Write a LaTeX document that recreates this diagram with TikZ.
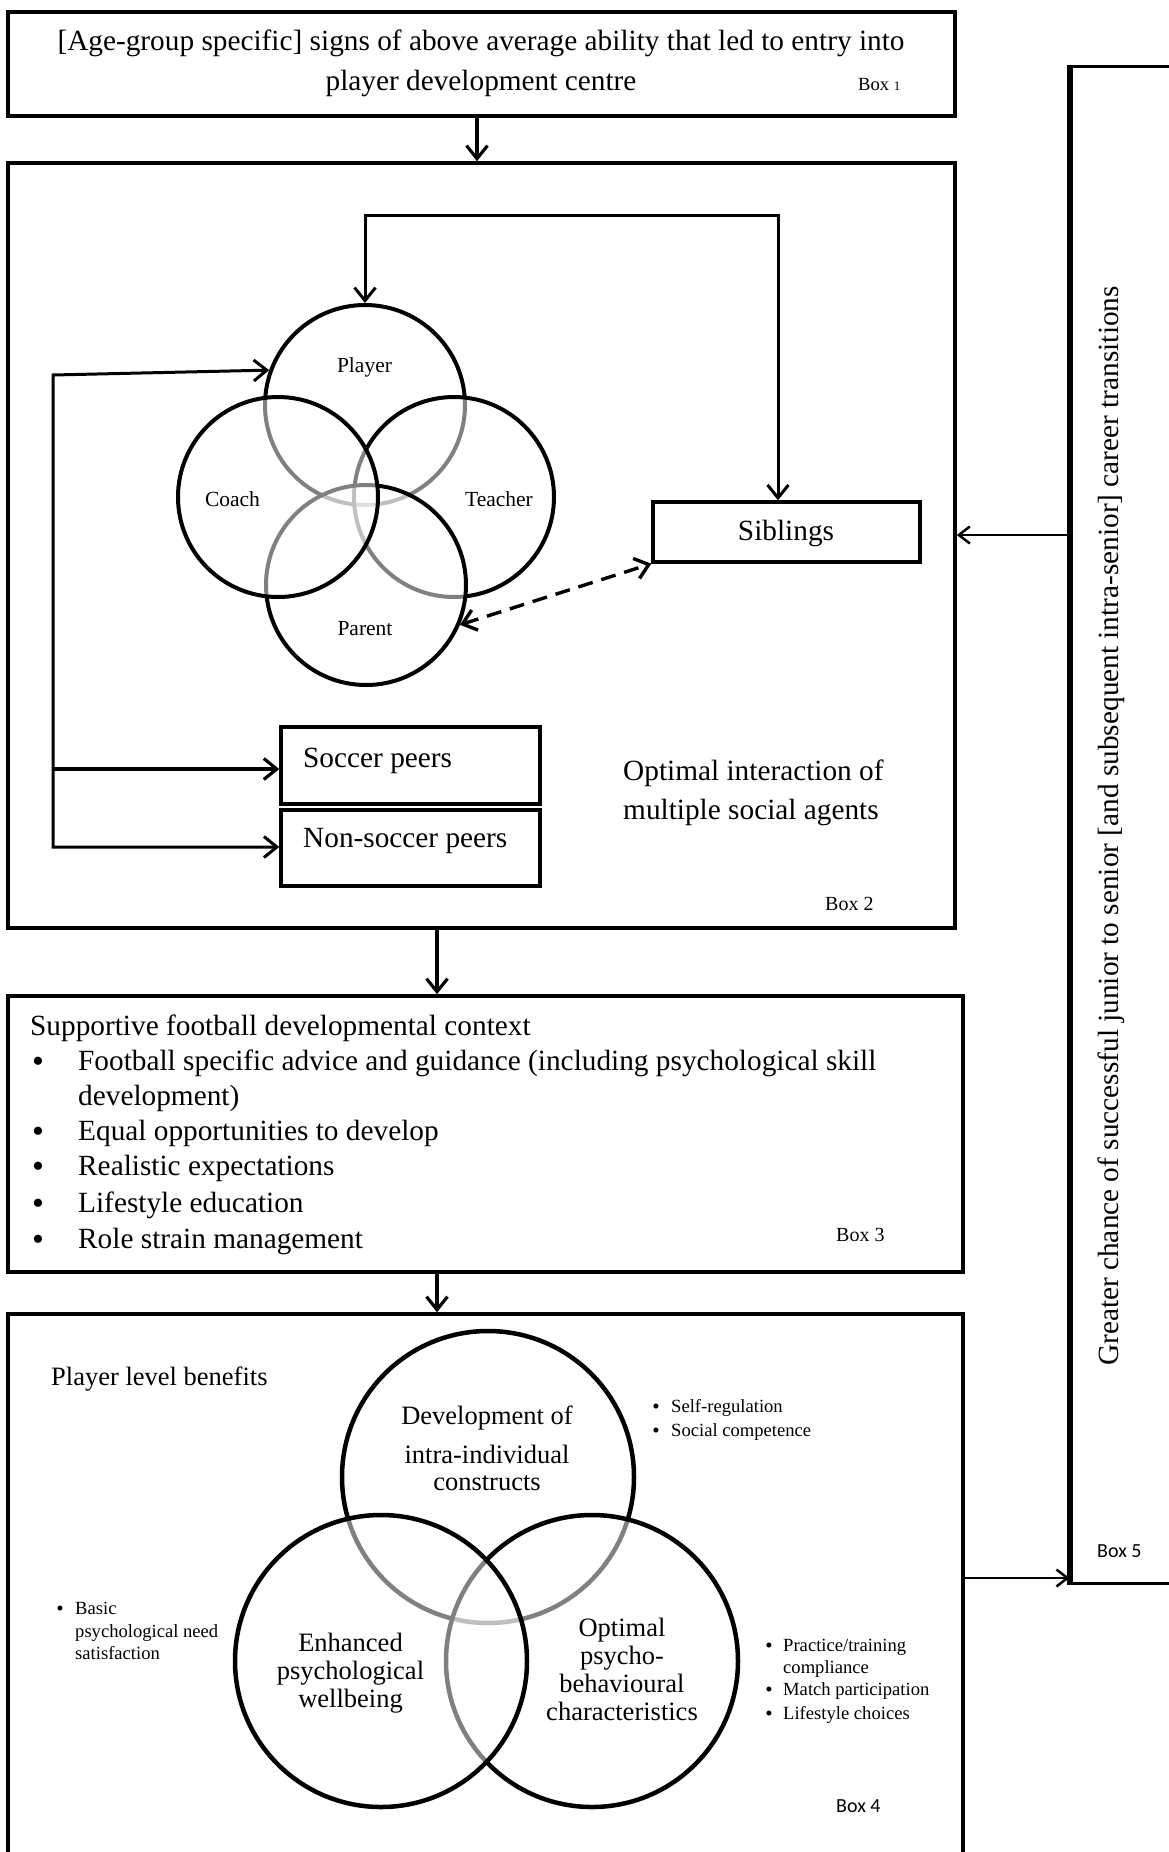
\documentclass[tikz,border=0pt]{standalone}
\usepackage{fontspec}
\setmainfont{Liberation Serif}
\newfontfamily\calib{Carlito}
\usetikzlibrary{arrows.meta}
\begin{document}
\begin{tikzpicture}[x=1pt,y=-1pt,
  mybarb/.tip={Straight Barb[length=13pt,width=21pt]},
  smallbarb/.tip={Straight Barb[length=11pt,width=17pt]},
  box/.style={draw=black,line width=3.6pt,rectangle,inner sep=0pt},
  conn/.style={line width=3.2pt,-mybarb},
  conn2/.style={line width=3pt,-mybarb},
  thinconn/.style={line width=2.5pt,-smallbarb},
  dasharrow/.style={line width=3.4pt,dash pattern=on 15pt off 9pt,mybarb-mybarb},
  circA/.style={circle,draw=black,line width=4pt,minimum size=200pt,inner sep=0pt,fill=white,fill opacity=0.5},
  circB/.style={circle,draw=black,line width=4.5pt,minimum size=292pt,inner sep=0pt,fill=white,fill opacity=0.5},
  txtbig/.style={font=\fontsize{29.3}{35}\selectfont,inner sep=0pt},
  bigdot/.style={font=\fontsize{34}{34}\selectfont,inner sep=0pt,anchor=base},
  smalldot/.style={font=\fontsize{21}{21}\selectfont,inner sep=0pt,anchor=base},
  txtc/.style={font=\fontsize{21.5}{25}\selectfont,inner sep=0pt,anchor=base},
  txtv/.style={font=\fontsize{26.5}{30}\selectfont,inner sep=0pt,anchor=base},
  txts/.style={font=\fontsize{18.6}{22}\selectfont,inner sep=0pt,anchor=base west},
  lbl/.style={font=\fontsize{20}{24}\selectfont,inner sep=0pt,anchor=base west},
  lblsans/.style={font=\calib\fontsize{20}{24}\selectfont,inner sep=0pt,anchor=base west}
]
\useasboundingbox (0,0) rectangle (1169,1852);
\clip (0,0) rectangle (1169,1852);

% ---- boxes
\node[box,minimum width=947pt,minimum height=104pt] (box1) at (481.5,64) {};
\node[box,minimum width=947pt,minimum height=765pt] (box2) at (481.5,545.5) {};
\node[box,minimum width=955pt,minimum height=276pt] (box3) at (485.5,1134) {};
\node[box,minimum width=955pt,minimum height=600pt] (box4) at (485.5,1614) {};
\node[box,line width=3pt,minimum width=140pt,minimum height=1516pt] (box5) at (1141,825) {};
\draw[line width=5.5pt] (box5.north west) -- (box5.south west);

% ---- Box 1 text
\node[txtbig,anchor=base] (b1a) at (481,51) {[Age-group specific] signs of above average ability that led to entry into};
\node[txtbig,anchor=base] (b1b) at (481,90) {player development centre};
\node[lbl,font=\fontsize{18.6}{22}\selectfont] (b1l) at (858,90) {Box {\fontsize{13}{15}\selectfont 1}};

% ---- main vertical arrows
\coordinate (a1) at (477,0);
\coordinate (a2) at (437,0);
\draw[conn] (box1.south -| a1) -- (box2.north -| a1);
\draw[conn] (box2.south -| a2) -- (box3.north -| a2);
\draw[conn] (box3.south -| a2) -- (box4.north -| a2);

% ---- Box 2: social agents
\node[circA] (player) at (365,405) {};
\node[circA] (teacher) at (454,497) {};
\node[circA] (parent) at (366,585) {};
\node[circA] (coach) at (278,497) {};
\node[txtc] (lplayer) at (364.5,372) {Player};
\node[txtc] (lcoach) at (232.5,506) {Coach};
\node[txtc] (lteacher) at (499,506) {Teacher};
\node[txtc] (lparent) at (365,635) {Parent};

\node[box,line width=3.4pt,minimum width=267pt,minimum height=60pt] (sib) at (786.5,532) {};
\node[txtbig,anchor=base] (sibt) at (786,540.5) {Siblings};
\node[box,line width=3.4pt,minimum width=259pt,minimum height=77pt] (soc) at (410.5,765.5) {};
\node[box,line width=3.4pt,minimum width=259pt,minimum height=76pt] (nsoc) at (410.5,848) {};
\node[txtbig,anchor=base west] (soct) at (303,767) {Soccer peers};
\node[txtbig,anchor=base west] (nsoct) at (303,847) {Non-soccer peers};

\coordinate (t1) at (365,215);
\coordinate (t2) at (778,215);
\draw[conn2,mybarb-mybarb] (player.north) -- (t1) -- (t2) -- (t2 |- sib.north);

\coordinate (l1) at (53,375);
\coordinate (l2) at (53,769);
\coordinate (l3) at (53,847);
\draw[conn2,mybarb-mybarb] (l3 -| nsoc.west) -- (l3) -- (l1) -- (player.160);
\draw[conn] (l2) -- (l2 -| soc.west);

\draw[dasharrow] (parent.-23) -- (sib.south west);

\node[txtbig,anchor=base west] (oi1) at (623,780) {Optimal interaction of};
\node[txtbig,anchor=base west] (oi2) at (623,819) {multiple social agents};
\node[lbl] (b2l) at (825,910) {Box 2};

% ---- Box 3
\node[txtbig,anchor=base west] (b3t) at (30,1035) {Supportive football developmental context};
\foreach \yy/\nm in {1072.3/ba,1142.3/bb,1177.3/bc,1214.3/bd,1250.3/be}
  \node[bigdot] (\nm) at (38,\yy) {\textbullet};
\node[txtbig,anchor=base west] (i1) at (78,1070) {Football specific advice and guidance (including psychological skill};
\node[txtbig,anchor=base west] (i1b) at (78,1105) {development)};
\node[txtbig,anchor=base west] (i2) at (78,1140) {Equal opportunities to develop};
\node[txtbig,anchor=base west] (i3) at (78,1175) {Realistic expectations};
\node[txtbig,anchor=base west] (i4) at (78,1212) {Lifestyle education};
\node[txtbig,anchor=base west] (i5) at (78,1248) {Role strain management};
\node[lbl] (b3l) at (836,1241) {Box 3};

% ---- Box 4
\node[circB] (dev) at (488,1477) {};
\node[circB] (opt) at (592,1661) {};
\node[circB] (enh) at (381,1661) {};
\node[txtv,anchor=base west] (plb) at (51,1385) {Player level benefits};
\node[txtv] (d1) at (487,1424) {Development of};
\node[txtv] (d2) at (487,1463) {intra-individual};
\node[txtv] (d3) at (487,1490) {constructs};
\node[txtv] (e1) at (350.5,1651) {Enhanced};
\node[txtv] (e2) at (350.5,1679) {psychological};
\node[txtv] (e3) at (350.5,1707) {wellbeing};
\node[txtv] (o1) at (622,1636) {Optimal};
\node[txtv] (o2) at (622,1664) {psycho-};
\node[txtv] (o3) at (622,1692) {behavioural};
\node[txtv] (o4) at (622,1720) {characteristics};

\foreach \xx/\yy/\nm in {656/1413.7/sa,656/1437.7/sb,60/1615.7/sc,769/1652.7/sd,769/1696.7/se,769/1720.7/sf}
  \node[smalldot] (\nm) at (\xx,\yy) {\textbullet};
\node[txts] (s1) at (671,1412) {Self-regulation};
\node[txts] (s2) at (671,1436) {Social competence};
\node[txts] (s3) at (75,1614) {Basic};
\node[txts] (s4) at (75,1637) {psychological need};
\node[txts] (s5) at (75,1659) {satisfaction};
\node[txts] (s6) at (783,1651) {Practice/training};
\node[txts] (s7) at (783,1673) {compliance};
\node[txts] (s8) at (783,1695) {Match participation};
\node[txts] (s9) at (783,1719) {Lifestyle choices};
\node[lblsans] (b4l) at (836,1812) {Box 4};

% ---- Box 5
\node[txtbig,rotate=90] (b5t) at (1111,826) {Greater chance of successful junior to senior [and subsequent intra-senior] career transitions};
\node[lblsans] (b5l) at (1097,1557) {Box 5};

\coordinate (r1) at (0,535);
\coordinate (r2) at (0,1578);
\draw[thinconn] (box5.west |- r1) -- (box2.east |- r1);
\draw[thinconn] (box4.east |- r2) -- (box5.west |- r2);
\end{tikzpicture}
\end{document}
